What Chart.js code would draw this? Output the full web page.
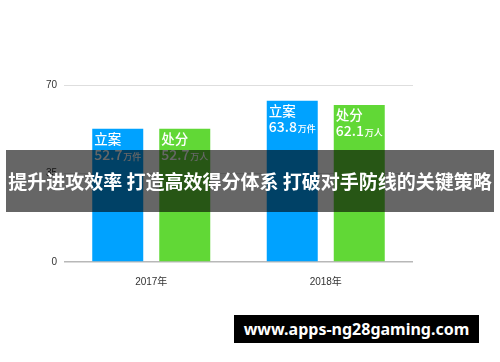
<!DOCTYPE html>
<html>
<head>
<meta charset="utf-8">
<script src="https://cdn.jsdelivr.net/npm/chart.js@4/dist/chart.umd.min.js"></script>
<style>
    html, body { margin: 0; padding: 0; background: #fff; }
    #wrap { position: relative; width: 500px; height: 362px; overflow: hidden; }
    #chart { position: absolute; left: 0; top: 0; }
    .banner {
        position: absolute; left: 6px; top: 150px; width: 488px; height: 62px;
        background: rgba(0, 0, 0, 0.6); color: #fff;
        font: bold 19px "Noto Sans CJK SC", sans-serif;
        line-height: 62px; text-align: center; white-space: nowrap; letter-spacing: 0;
    }
    .mark {
        position: absolute; left: 234px; top: 315px; width: 245px; height: 28px;
        background: #000; color: #fff;
        font: bold 16px "Noto Sans", sans-serif;
        line-height: 28px; text-align: center; white-space: nowrap;
    }
</style>
</head>
<body>
<div id="wrap">
    <canvas id="chart" width="500" height="362"></canvas>
    <div class="banner">提升进攻效率 打造高效得分体系 打破对手防线的关键策略</div>
    <div class="mark">www.apps-ng28gaming.com</div>
</div>
<script>
// Chart data
const years = ['2017年', '2018年'];
const seriesNames = ['立案', '处分'];
const seriesUnits = ['万件', '万人'];
const caseValues = [52.7, 63.8];     // 立案, 万件
const punishValues = [52.7, 62.1];   // 处分, 万人
const yTicks = [0, 35, 70];

const seriesColors = ['#00A2FF', '#61D836'];

/**
 * Draw series name + value inside the top of each bar
 */
const barLabels = {
    id: 'barLabels',
    afterDatasetsDraw(chart) {
        const ctx = chart.ctx;
        ctx.save();
        ctx.fillStyle = '#fff';
        ctx.textBaseline = 'alphabetic';
        ctx.textAlign = 'left';
        chart.data.datasets.forEach((ds, di) => {
            const meta = chart.getDatasetMeta(di);
            meta.data.forEach((bar, i) => {
                const left = bar.x - bar.width / 2 + 2;
                const top = bar.y;
                ctx.font = '500 13.5px "Noto Sans CJK SC", sans-serif';
                ctx.fillText(seriesNames[di], left, top + 15);
                const valueText = ds.data[i].toFixed(1);
                ctx.font = '500 14px "Noto Sans CJK SC", sans-serif';
                ctx.fillText(valueText, left, top + 31);
                const w = ctx.measureText(valueText).width;
                ctx.font = '500 9px "Noto Sans CJK SC", sans-serif';
                ctx.fillText(seriesUnits[di], left + w + 1, top + 31);
            });
        });
        ctx.restore();
    }
};

new Chart(document.getElementById('chart'), {
    type: 'bar',
    data: {
        labels: years,
        datasets: [
            { label: seriesNames[0], data: caseValues, backgroundColor: seriesColors[0] },
            { label: seriesNames[1], data: punishValues, backgroundColor: seriesColors[1] }
        ]
    },
    options: {
        responsive: false,
        animation: false,
        events: [],
        categoryPercentage: 0.768,
        barPercentage: 0.761,
        layout: { padding: { top: 85, right: 87, left: 0, bottom: 0 } },
        plugins: {
            legend: { display: false },
            tooltip: { enabled: false }
        },
        scales: {
            x: {
                grid: { display: false },
                border: { display: false },
                ticks: {
                    color: '#333',
                    padding: 6,
                    font: { family: '"Liberation Sans", "Noto Sans CJK SC", sans-serif', size: 10 }
                },
                afterFit(scale) { scale.height = 100; }
            },
            y: {
                min: 0,
                max: 70,
                afterBuildTicks(scale) { scale.ticks = yTicks.map(v => ({ value: v })); },
                grid: {
                    drawTicks: false,
                    color: c => c.tick && c.tick.value === 0 ? '#b8b8b8' : '#dedede',
                    lineWidth: c => c.tick && c.tick.value === 0 ? 1.5 : 1
                },
                border: { display: false },
                ticks: {
                    color: '#333',
                    padding: 7,
                    font: { family: '"Liberation Sans", sans-serif', size: 10 }
                },
                afterFit(scale) { scale.width = 64; }
            }
        }
    },
    plugins: [barLabels]
});
</script>
</body>
</html>
